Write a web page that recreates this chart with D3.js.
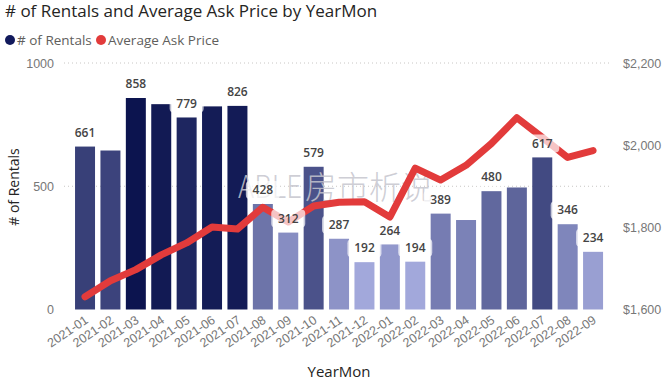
<!DOCTYPE html>
<html>
<head>
<meta charset="utf-8">
<script src="https://cdn.jsdelivr.net/npm/d3@7"></script>
<style>
  body { margin: 0; background: #fff; }
  svg { display: block; font-family: "Segoe UI", "Open Sans", sans-serif; }
</style>
</head>
<body>
<div id="chart"></div>
<script>
const months = [
  "2021-01", "2021-02", "2021-03", "2021-04", "2021-05", "2021-06", "2021-07",
  "2021-08", "2021-09", "2021-10", "2021-11", "2021-12", "2022-01", "2022-02",
  "2022-03", "2022-04", "2022-05", "2022-06", "2022-07", "2022-08", "2022-09",
];
const rentals = [661, 645, 858, 833, 779, 824, 826, 428, 312, 579, 287, 192, 264, 194, 389, 363, 480, 495, 617, 346, 234];
const avgPrice = [1631, 1670, 1697, 1733, 1762, 1801, 1796, 1849, 1813, 1852, 1861, 1862, 1825, 1944, 1915, 1951, 2004, 2067, 2019, 1970, 1987];
// which bars get a data label in the original
const showLabel = [true, false, true, false, true, false, true, true, true, true, true, true, true, true, true, false, true, false, true, true, true];
const leftTicks = [0, 500, 1000];
const rightTicks = [1600, 1800, 2000, 2200];

const width = 669, height = 384;
const svg = d3.select("#chart").append("svg")
  .attr("width", width)
  .attr("height", height);

const x = d3.scaleBand()
  .domain(months)
  .range([72.5, 605.6])
  .paddingInner(0.213)
  .paddingOuter(0.1);

const y = d3.scaleLinear().domain([0, 1000]).range([309.5, 63]);
const yPrice = d3.scaleLinear().domain([1600, 2200]).range([309.5, 63]);

const barColor = d3.scaleLinear()
  .domain([d3.min(rentals), d3.max(rentals)])
  .range(["#a2a8db", "#0c144f"])
  .interpolate(d3.interpolateRgb);

const data = months.map((m, i) => ({ month: m, rentals: rentals[i], price: avgPrice[i], label: showLabel[i] }));

// title
svg.append("text")
  .attr("x", 5).attr("y", 17)
  .attr("font-size", 17)
  .attr("fill", "#252423")
  .text("# of Rentals and Average Ask Price by YearMon");

// legend
const legend = svg.append("g").attr("font-size", 13.5).attr("fill", "#605e5c");
legend.append("circle").attr("cx", 10).attr("cy", 40).attr("r", 5).attr("fill", "#121a5c");
legend.append("text").attr("x", 17).attr("y", 45).text("# of Rentals");
legend.append("circle").attr("cx", 101).attr("cy", 40).attr("r", 5).attr("fill", "#e23b3b");
legend.append("text").attr("x", 108).attr("y", 45).text("Average Ask Price");

// gridlines
svg.append("g")
  .selectAll("line")
  .data(leftTicks.filter(d => d > 0))
  .join("line")
  .attr("x1", 64).attr("x2", 612)
  .attr("y1", d => y(d)).attr("y2", d => y(d))
  .attr("stroke", "#c8c6c4")
  .attr("stroke-width", 1)
  .attr("stroke-dasharray", "1,3");

// left axis
const yAxis = svg.append("g")
  .attr("transform", "translate(54,0)")
  .call(d3.axisLeft(y).tickValues(leftTicks).tickSize(0).tickPadding(0).tickFormat(d3.format("d")));
yAxis.select(".domain").remove();
yAxis.selectAll("text").attr("font-size", 12.5).attr("fill", "#777").attr("font-family", null);

// right axis
const yAxisR = svg.append("g")
  .attr("transform", "translate(623,0)")
  .call(d3.axisRight(yPrice).tickValues(rightTicks).tickSize(0).tickPadding(0)
    .tickFormat(d => "$" + d3.format(",")(d)));
yAxisR.select(".domain").remove();
yAxisR.selectAll("text").attr("font-size", 12.5).attr("fill", "#777").attr("font-family", null);

// x axis
const xAxis = svg.append("g")
  .attr("transform", "translate(0,310)")
  .call(d3.axisBottom(x).tickSize(0).tickPadding(0));
xAxis.select(".domain").remove();
xAxis.selectAll("text")
  .attr("font-size", 12.5)
  .attr("fill", "#777")
  .attr("font-family", null)
  .attr("text-anchor", "end")
  .attr("dy", null)
  .attr("transform", "translate(4,12) rotate(-34)");

// axis titles
svg.append("text")
  .attr("transform", "translate(19,187) rotate(-90)")
  .attr("text-anchor", "middle")
  .attr("font-size", 14)
  .attr("fill", "#252423")
  .text("# of Rentals");
svg.append("text")
  .attr("x", 339).attr("y", 377)
  .attr("text-anchor", "middle")
  .attr("font-size", 15)
  .attr("fill", "#252423")
  .text("YearMon");

// bars
svg.append("g")
  .selectAll("rect")
  .data(data)
  .join("rect")
  .attr("x", d => x(d.month))
  .attr("y", d => y(d.rentals))
  .attr("width", x.bandwidth())
  .attr("height", d => y(0) - y(d.rentals))
  .attr("fill", d => barColor(d.rentals));

// watermark
const mark = svg.append("g")
  .attr("fill", "#c6c6ce")
  .attr("fill-opacity", 0.85)
  .attr("font-family", "'Noto Sans CJK SC', 'Noto Sans', sans-serif")
  .attr("font-weight", 300);
mark.append("text")
  .attr("x", 238).attr("y", 198)
  .attr("font-size", 32)
  .attr("textLength", 64)
  .attr("lengthAdjust", "spacingAndGlyphs")
  .text("ABLE");
mark.append("text")
  .attr("x", 305).attr("y", 199)
  .attr("font-size", 32)
  .text("房市析说");

// price line
const line = d3.line()
  .x(d => x(d.month) + x.bandwidth() / 2)
  .y(d => yPrice(d.price));
svg.append("path")
  .datum(data)
  .attr("d", line)
  .attr("fill", "none")
  .attr("stroke", "#e23b3b")
  .attr("stroke-width", 7)
  .attr("stroke-linejoin", "round")
  .attr("stroke-linecap", "round");

// data labels
const labels = svg.append("g")
  .selectAll("g")
  .data(data.filter(d => d.label))
  .join("g")
  .attr("transform", d => `translate(${x(d.month) + x.bandwidth() / 2},${y(d.rentals) - 14})`);
labels.append("rect")
  .attr("x", -17).attr("y", -9)
  .attr("width", 34).attr("height", 18)
  .attr("rx", 4)
  .attr("fill", "#fff")
  .attr("fill-opacity", 0.7);
labels.append("text")
  .attr("text-anchor", "middle")
  .attr("dy", "0.35em")
  .attr("font-size", 12)
  .attr("font-weight", 600)
  .attr("fill", "#444")
  .text(d => d.rentals);
</script>
</body>
</html>
